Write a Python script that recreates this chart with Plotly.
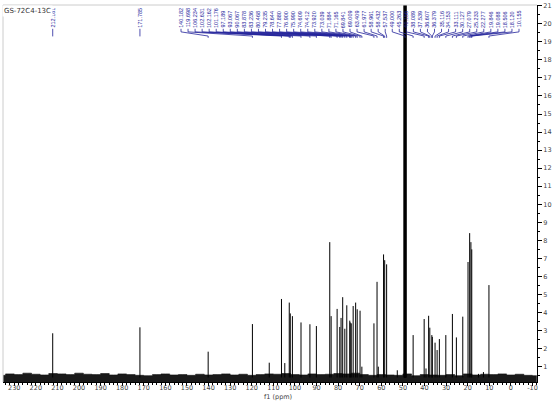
import plotly.graph_objects as go
import numpy as np

# ---------------- data ----------------
title_text = "GS-72C4-13C"

# isolated labelled peaks (label sits directly above the peak)
iso_labels = ["212.181", "171.785"]
iso_heights = [2.85, 3.18]

# peaks labelled in the crowded label row
row_labels = ["140.182", "119.698", "106.234", "102.631", "102.162", "101.176",
              "97.189", "93.067", "90.067", "83.878", "83.236", "80.468",
              "79.235", "78.644", "77.880", "76.900", "75.990", "74.609",
              "74.412", "73.920", "73.039", "71.884", "71.165", "69.841",
              "69.009", "63.409", "61.977", "58.961", "58.432", "57.537",
              "49.000", "45.263", "40.156", "38.089", "37.539", "36.607",
              "36.379", "35.116", "34.153", "33.111", "30.127", "27.079",
              "25.233", "22.277", "19.846", "19.088", "18.506", "18.120",
              "10.155"]
row_heights = [1.83, 3.36, 4.75, 4.55, 3.95, 3.80,
               3.45, 3.35, 3.25, 7.90, 3.80, 4.20,
               3.20, 3.70, 4.85, 3.10, 4.40, 3.55,
               3.45, 3.40, 4.36, 4.55, 4.18, 4.10,
               1.00, 3.40, 5.70, 7.22, 6.90, 6.67,
               60.0, 2.75, 3.64, 3.82, 3.16, 2.75,
               2.65, 2.33, 1.92, 2.53, 2.75, 3.92,
               2.62, 3.77, 6.80, 8.40, 7.90, 7.50,
               5.52]

# small unlabelled peaks
extra_ppm = [111.9, 104.7, 61.4, 52.6, 39.3, 15.0, 12.7]
extra_heights = [1.22, 1.20, 1.00, 0.80, 0.90, 0.60, 0.70]

# solvent (CD3OD) septet, off scale
solvent_ppm = [49.51, 49.34, 49.17, 49.00, 48.83, 48.66, 48.49]
solvent_heights = [40, 120, 240, 280, 240, 120, 40]

# baseline noise envelope (top of the black noise band), every 4 ppm
noise_ppm = [236, 232, 228, 224, 220, 216, 212, 208, 204, 200, 196, 192, 188,
             184, 180, 176, 172, 168, 164, 160, 156, 152, 148, 144, 140, 136,
             132, 128, 124, 120, 116, 112, 108, 104, 100, 96, 92, 88, 84, 80,
             76, 72, 68, 64, 60, 56, 52, 48, 44, 40, 36, 32, 28, 24, 20, 16,
             12, 8, 4, 0, -4, -8, -12]
noise_top = [0.52, 0.60, 0.56, 0.64, 0.58, 0.54, 0.62, 0.60, 0.56, 0.64, 0.58,
             0.56, 0.62, 0.54, 0.60, 0.56, 0.52, 0.50, 0.56, 0.60, 0.54, 0.56,
             0.52, 0.58, 0.54, 0.56, 0.60, 0.54, 0.58, 0.52, 0.56, 0.60, 0.58,
             0.62, 0.56, 0.54, 0.60, 0.56, 0.58, 0.62, 0.60, 0.64, 0.56, 0.52,
             0.56, 0.54, 0.52, 0.60, 0.50, 0.56, 0.54, 0.52, 0.56, 0.50, 0.60,
             0.54, 0.58, 0.56, 0.60, 0.54, 0.58, 0.52, 0.50]

x_ticks = list(range(230, -20, -10))
y_ticks = list(range(1, 22))

# ---------------- layout constants ----------------
W, H = 557, 401
ML, MR, MT, MB = 3, 20, 5, 19
X_RANGE = [235.2, -12.1]
Y_RANGE = [0.15, 21.04]
BASE = 0.40
LABEL_Y = 19.72
BLUE = "#23239a"
FONT = "Liberation Sans"

row_ppm = [float(s) for s in row_labels]
iso_ppm = [float(s) for s in iso_labels]

# label row positions (evenly spaced in pixels -> ppm)
pw = W - ML - MR
def px_to_ppm(px):
    return X_RANGE[0] + (px - ML) / pw * (X_RANGE[1] - X_RANGE[0])
row_label_x = np.linspace(px_to_ppm(181), px_to_ppm(519), len(row_labels))

fig = go.Figure()

# noise band
fig.add_trace(go.Scatter(x=noise_ppm, y=noise_top, mode="lines",
                         line=dict(color="#111111", width=0.6, shape="hvh"),
                         fill="tozeroy", fillcolor="#1a1a1a", hoverinfo="skip", showlegend=False))

# peak sticks
def sticks(xs, hs):
    X, Y = [], []
    for x, h in zip(xs, hs):
        X += [x, x, None]
        Y += [BASE, h, None]
    return X, Y

allx = iso_ppm + row_ppm + extra_ppm
allh = iso_heights + row_heights + extra_heights
sx, sy = sticks(allx, allh)
fig.add_trace(go.Scatter(x=sx, y=sy, mode="lines", line=dict(color="black", width=1.0),
                         hoverinfo="skip", showlegend=False))
vx, vy = sticks(solvent_ppm, solvent_heights)
fig.add_trace(go.Scatter(x=vx, y=vy, mode="lines", line=dict(color="black", width=1.1),
                         hoverinfo="skip", showlegend=False))

# label connectors
cx, cy = [], []
for lx, p in zip(row_label_x, row_ppm):
    cx += [lx, lx, p, p, None]
    cy += [LABEL_Y, 19.55, 19.32, 19.22, None]
for p in iso_ppm:
    cx += [p, p, None]
    cy += [LABEL_Y, 19.30, None]
fig.add_trace(go.Scatter(x=cx, y=cy, mode="lines", line=dict(color=BLUE, width=0.8),
                         hoverinfo="skip", showlegend=False))

annotations = []
for lx, t in list(zip(row_label_x, row_labels)) + list(zip(iso_ppm, iso_labels)):
    annotations.append(dict(x=lx, y=LABEL_Y, xref="x", yref="y", text=t, textangle=-90,
                            showarrow=False, xanchor="center", yanchor="bottom",
                            font=dict(family=FONT, size=5.5, color=BLUE), borderpad=0))
annotations.append(dict(x=-0.002, y=1.0, xref="paper", yref="paper", text=title_text,
                        showarrow=False, xanchor="left", yanchor="top", bgcolor="white",
                        font=dict(family="DejaVu Sans", size=7, color="#333333"), borderpad=1))
annotations.append(dict(x=0.515, y=-0.04, xref="paper", yref="paper", text="f1 (ppm)",
                        showarrow=False, xanchor="center", yanchor="middle",
                        font=dict(family="DejaVu Sans", size=6.5, color="#444444")))

fig.update_layout(
    width=W, height=H,
    margin=dict(l=ML, r=MR, t=MT, b=MB, autoexpand=False),
    paper_bgcolor="white", plot_bgcolor="white",
    annotations=annotations,
    shapes=[
        dict(type="line", xref="paper", yref="paper", x0=0, x1=0, y0=0, y1=1,
             line=dict(color="#cccccc", width=1)),
        dict(type="line", xref="paper", yref="paper", x0=0, x1=1, y0=1, y1=1,
             line=dict(color="#cccccc", width=1)),
    ],
)
fig.update_xaxes(range=X_RANGE, tickvals=x_ticks, ticktext=[str(v) for v in x_ticks],
                 ticks="outside", ticklen=3, tickcolor="black", showline=True, linecolor="black",
                 linewidth=1, showgrid=False, zeroline=False, automargin=False,
                 ticklabelstandoff=-4,
                 tickfont=dict(family="DejaVu Sans", size=6.5, color="#444444"),
                 minor=dict(dtick=2, tick0=0, ticks="outside", ticklen=2, tickcolor="black"))
fig.update_yaxes(range=Y_RANGE, side="right", tickvals=y_ticks,
                 ticks="outside", ticklen=4, tickcolor="black", showline=True, linecolor="black",
                 linewidth=1, showgrid=False, zeroline=False, automargin=False,
                 tickfont=dict(family="DejaVu Sans", size=6.5, color="#444444"),
                 minor=dict(dtick=0.5, tick0=0, ticks="outside", ticklen=2, tickcolor="black"))

fig.write_html("out.html", post_script="document.body.style.margin='0';",
               config={"displayModeBar": False})
